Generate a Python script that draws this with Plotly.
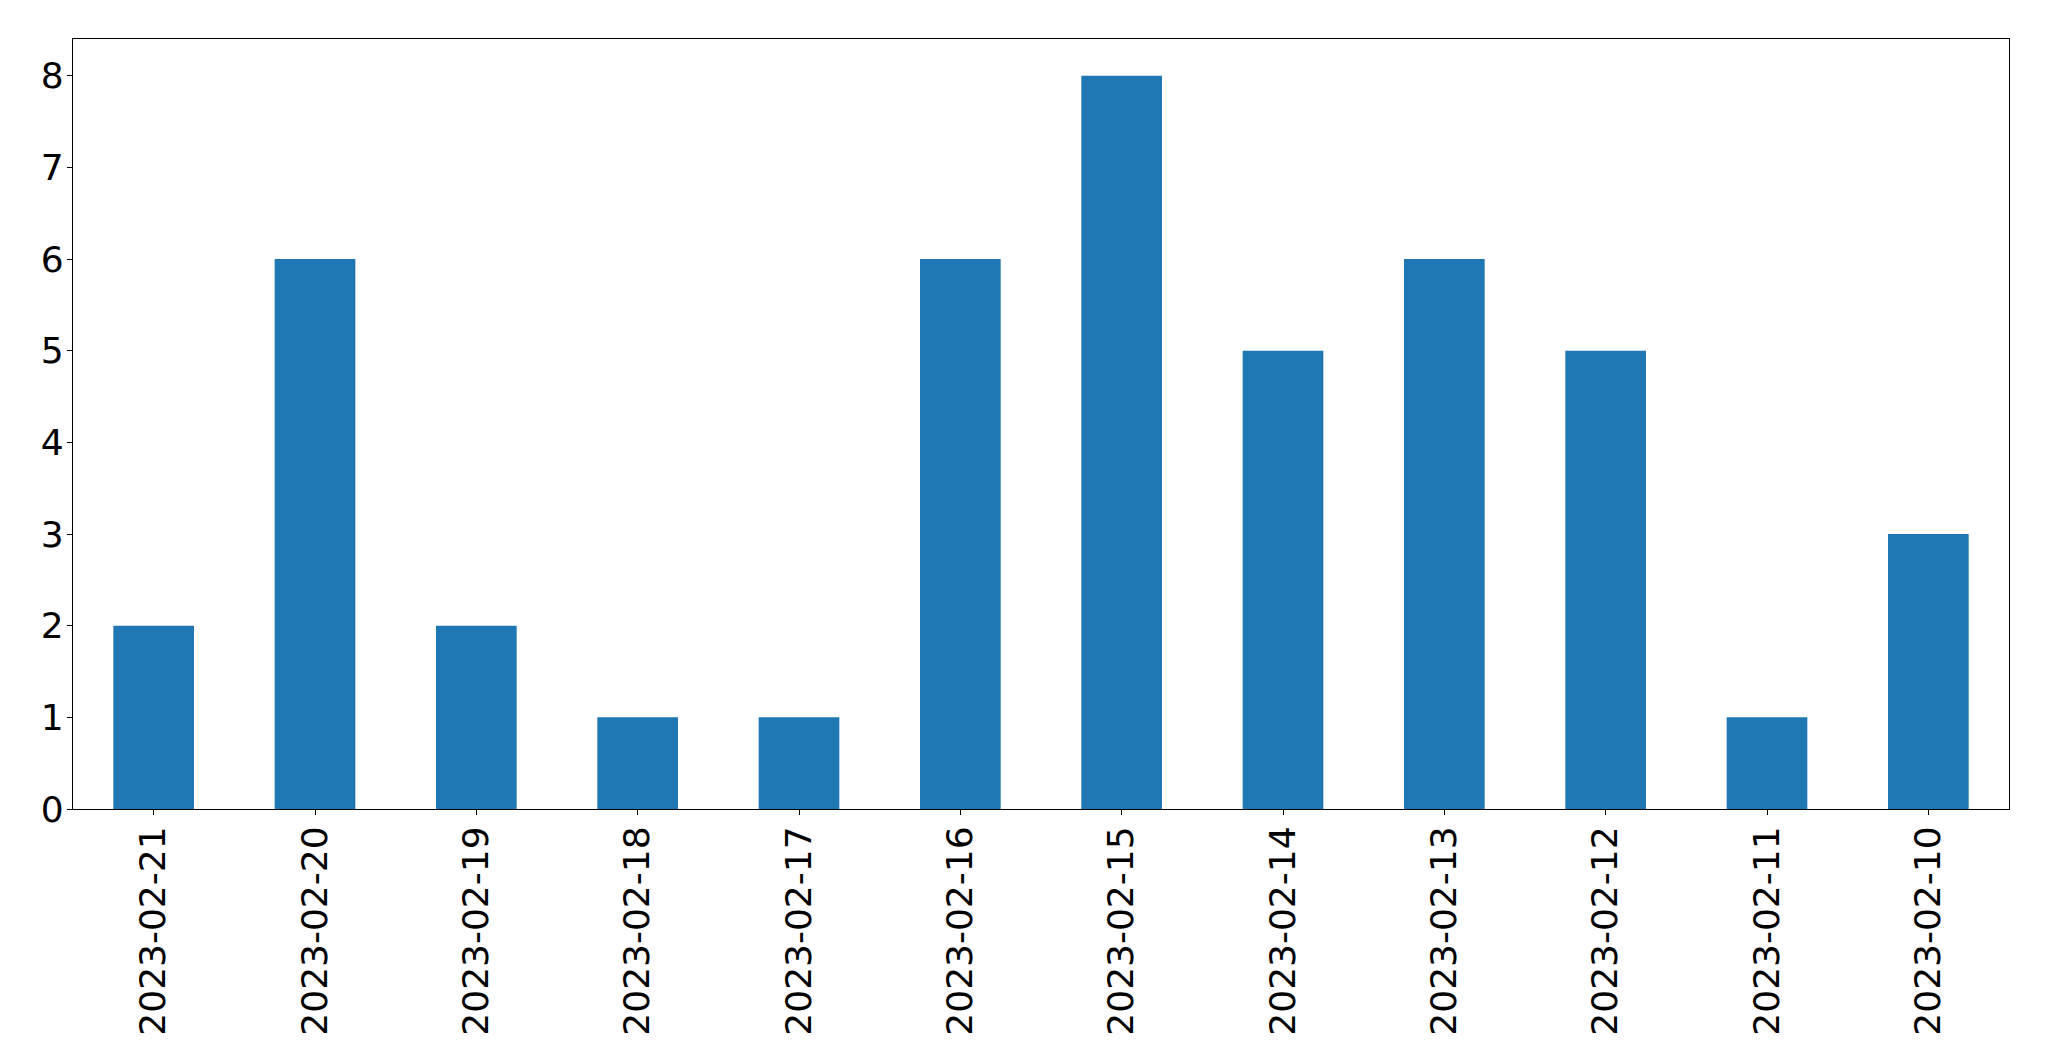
import plotly.graph_objects as go

dates = ["2023-02-21", "2023-02-20", "2023-02-19", "2023-02-18", "2023-02-17", "2023-02-16",
         "2023-02-15", "2023-02-14", "2023-02-13", "2023-02-12", "2023-02-11", "2023-02-10"]
counts = [2, 6, 2, 1, 1, 6, 8, 5, 6, 5, 1, 3]
y_ticks = [0, 1, 2, 3, 4, 5, 6, 7, 8]

fig = go.Figure(go.Bar(x=dates, y=counts, marker=dict(color="#1f77b4", line=dict(width=0)), width=0.5))

# page body has an 8px margin; compensate so the plot area lands where the reference has it
OFF = 8
W, H = 2049 - OFF, 1061 - OFF
L, R, T, B = 72.5 - OFF, 2009.3 - OFF, 39.3 - OFF, 809 - OFF
fig.update_layout(
    width=W, height=H,
    margin=dict(l=L, r=W - R, t=T, b=H - B, pad=0),
    paper_bgcolor="white", plot_bgcolor="white",
    font=dict(family="DejaVu Sans", size=36, color="black"),
    showlegend=False,
)
fig.update_xaxes(
    type="category", range=[-0.5, len(dates) - 0.5],
    showline=True, linecolor="black", linewidth=1.1, mirror=True,
    ticks="outside", ticklen=5, tickwidth=1.1, tickcolor="black",
    tickangle=-90, showgrid=False, zeroline=False, ticklabelstandoff=-3,
)
fig.update_yaxes(
    range=[0, 8.4], tickvals=y_ticks,
    showline=True, linecolor="black", linewidth=1.1, mirror=True,
    ticks="outside", ticklen=5, tickwidth=1.1, tickcolor="black",
    showgrid=False, zeroline=False, ticklabelstandoff=-4,
)
fig.write_html("out.html", config={"displayModeBar": False})
